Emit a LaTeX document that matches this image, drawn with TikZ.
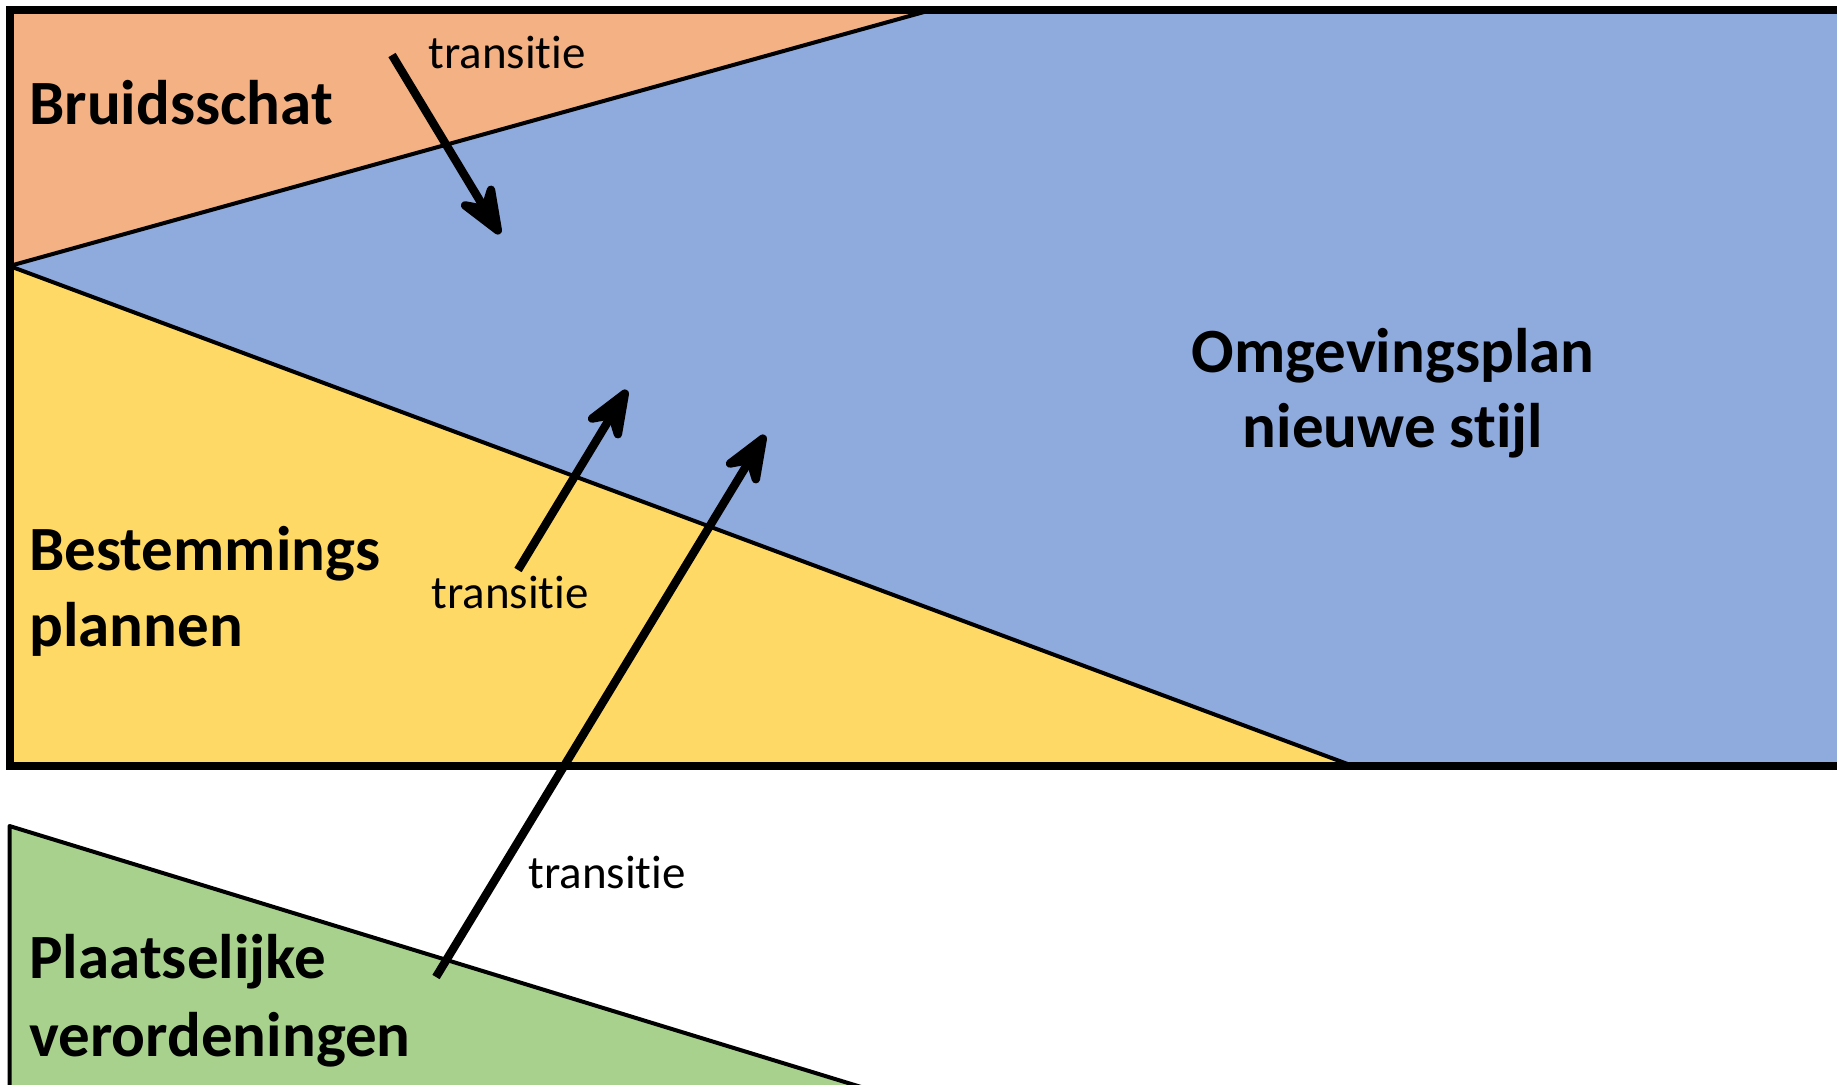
\documentclass[tikz,border=0pt]{standalone}
\usepackage{fontspec}
\setmainfont{Carlito}[Ligatures=NoCommon]
\usetikzlibrary{arrows.meta}
\definecolor{cOrange}{HTML}{F4B183}
\definecolor{cBlue}{HTML}{8FAADC}
\definecolor{cYellow}{HTML}{FFD966}
\definecolor{cGreen}{HTML}{A9D18E}
\newcommand\nolig{\kern0pt }
\tikzset{
  big/.style={font=\fontsize{31.5}{38}\selectfont\bfseries, inner sep=0pt, text=black},
  small/.style={font=\fontsize{23.5}{28}\selectfont, inner sep=0pt, text=black},
  sep/.style={line width=2pt, line join=round},
  trans/.style={line width=4.2pt, arrows={-Stealth[length=32pt, width=25pt, inset=11pt, round]}},
}
\begin{document}
\begin{tikzpicture}[x=0.5pt, y=-0.5pt]
  \useasboundingbox (0,0) rectangle (1837,1084);
  \clip (0,0) rectangle (1837,1084);
  % regions
  \fill[cBlue] (9.5,266) -- (933,9.5) -- (1860,9.5) -- (1860,766) -- (1353,766) -- cycle;
  \fill[cOrange] (9.5,9.5) -- (933,9.5) -- (9.5,266) -- cycle;
  \fill[cYellow] (9.5,266) -- (1353,766) -- (9.5,766) -- cycle;
  \draw[sep] (9.5,266) -- (933,9.5);
  \draw[sep] (9.5,266) -- (1353,766);
  \draw[line width=4pt] (9.5,9.5) rectangle (1870,766);
  % green
  \filldraw[cGreen, draw=black, sep] (9.5,826) -- (884,1094) -- (9.5,1094) -- cycle;
  % labels
  \node[big, anchor=base west] (bruid) at (29,124) {Bruidsschat};
  \node[big, anchor=base west] (best1) at (29,570) {Bestemmings};
  \node[big, anchor=base west] (best2) at (29,646) {plannen};
  \node[big, anchor=base west] (plaat1) at (29,978) {Plaatselijke};
  \node[big, anchor=base west] (plaat2) at (29,1056) {verordeningen};
  \node[big, anchor=base] (omg1) at (1393,372) {Omgevingsplan};
  \node[big, anchor=base] (omg2) at (1393,447) {nieuwe st\nolig ijl};
  \node[small, anchor=base west] (t1) at (428,68) {transit\nolig ie};
  \node[small, anchor=base west] (t2) at (431,608) {transit\nolig ie};
  \node[small, anchor=base west] (t3) at (528,888) {transit\nolig ie};
  % arrows
  \coordinate (a1s) at (392,55);
  \coordinate (a1e) at (500,234);
  \coordinate (a2s) at (518,570);
  \coordinate (a2e) at (627,390);
  \coordinate (a3s) at (436,977);
  \coordinate (a3e) at (765,435);
  \draw[trans] (a1s) -- (a1e);
  \draw[trans] (a2s) -- (a2e);
  \draw[trans] (a3s) -- (a3e);
\end{tikzpicture}
\end{document}
